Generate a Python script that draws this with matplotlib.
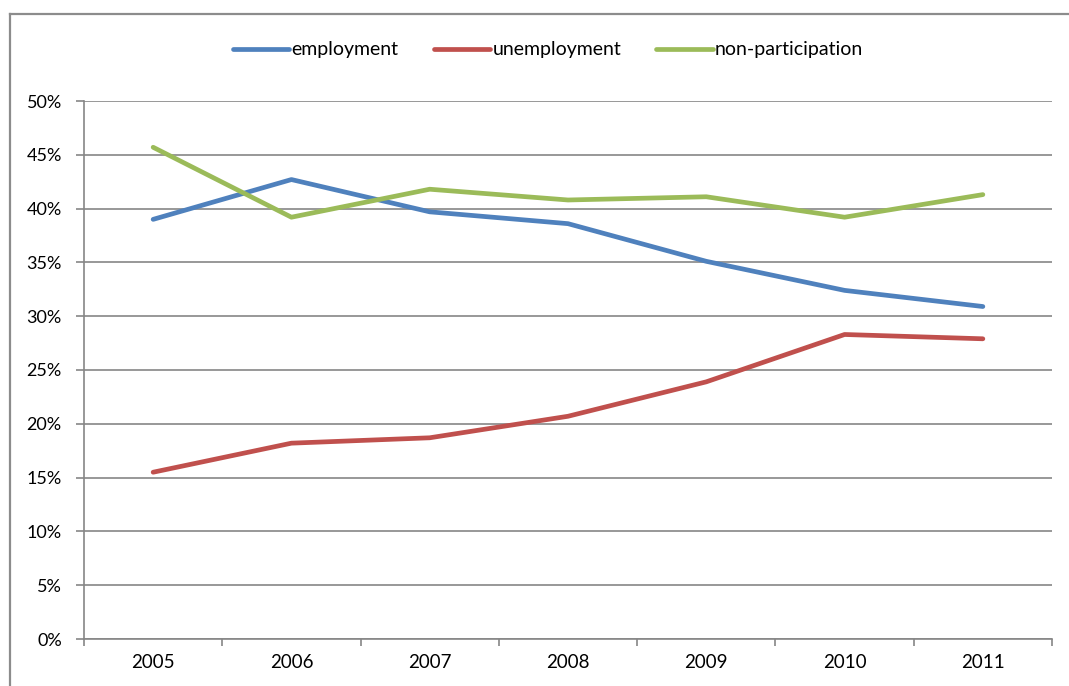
import matplotlib.pyplot as plt
from matplotlib.lines import Line2D
from matplotlib.ticker import FuncFormatter, MultipleLocator

plt.rcParams['font.family'] = ['Lato', 'DejaVu Sans']

years = ['2005', '2006', '2007', '2008', '2009', '2010', '2011']
employment = [39.0, 42.7, 39.7, 38.6, 35.1, 32.4, 30.9]
unemployment = [15.5, 18.2, 18.7, 20.7, 23.9, 28.3, 27.9]
non_participation = [45.7, 39.2, 41.8, 40.8, 41.1, 39.2, 41.3]

W, H = 1069, 686
fig = plt.figure(figsize=(W / 100, H / 100), dpi=100)
ax = fig.add_axes([84 / W, 1 - 639 / H, (1052 - 84) / W, (639 - 101) / H])

grid_c = '#868686'
x = range(len(years))
ax.plot(x, employment, color='#4F81BD', lw=3.4, label='employment', solid_capstyle='round')
ax.plot(x, unemployment, color='#C0504D', lw=3.4, label='unemployment', solid_capstyle='round')
ax.plot(x, non_participation, color='#9BBB59', lw=3.4, label='non-participation', solid_capstyle='round')

ax.set_xlim(-0.5, len(years) - 0.5)
ax.set_ylim(0, 50)
ax.yaxis.set_major_locator(MultipleLocator(5))
ax.yaxis.set_major_formatter(FuncFormatter(lambda v, p: f'{v:.0f}%'))
ax.grid(axis='y', color=grid_c, lw=1.2)
ax.set_axisbelow(True)

# category ticks between years, labels at centres
ax.set_xticks([i - 0.5 for i in range(len(years) + 1)])
ax.set_xticklabels([])
ax.set_xticks(list(x), minor=True)
ax.set_xticklabels(years, minor=True)
ax.tick_params(axis='x', which='major', direction='out', length=5, color=grid_c, width=1.2)
ax.tick_params(axis='x', which='minor', length=0, pad=11, labelsize=13.5)
ax.tick_params(axis='y', direction='out', length=6, color=grid_c, width=1.2, pad=10, labelsize=13)

for s in ['top', 'right']:
    ax.spines[s].set_visible(False)
for s in ['left', 'bottom']:
    ax.spines[s].set_color(grid_c)
    ax.spines[s].set_linewidth(1.2)

fig.legend(loc='center', bbox_to_anchor=(548 / W, 1 - 50 / H), ncol=3, frameon=False,
           fontsize=14, handlelength=2.9, handletextpad=0.12, columnspacing=1.8)

# outer chart frame
fig.add_artist(Line2D([10 / W, 10 / W], [-0.05, 1 - 14 / H], color='#8c8c8c', lw=1.6, transform=fig.transFigure))
fig.add_artist(Line2D([10 / W, 1.05], [1 - 14 / H, 1 - 14 / H], color='#8c8c8c', lw=1.6, transform=fig.transFigure))

fig.savefig('out.png', dpi=100)
